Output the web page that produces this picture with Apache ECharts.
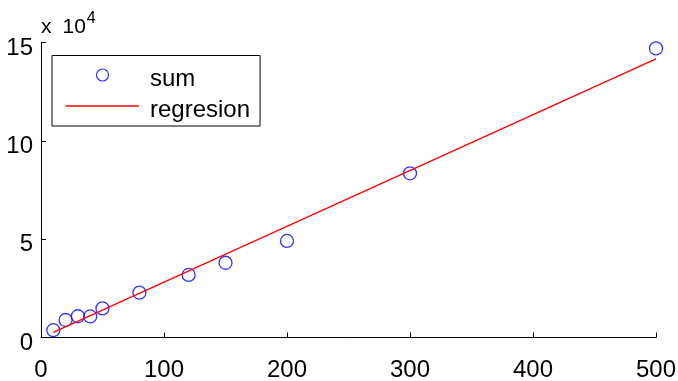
<!DOCTYPE html>
<html>
<head>
<meta charset="utf-8">
<script src="https://cdn.jsdelivr.net/npm/echarts@6/dist/echarts.min.js"></script>
<style>
  html, body { margin: 0; padding: 0; background: #fff; }
  #chart { width: 678px; height: 381px; }
</style>
</head>
<body>
<div id="chart"></div>
<script>
// measured points
const xValues = [10, 20, 30, 40, 50, 80, 120, 150, 200, 300, 500];
const sumValues = [3700, 8900, 10800, 10700, 14800, 22800, 31800, 38000, 49100, 83500, 147000];

// fitted line, end points
const regX = [10, 500];
const regY = [2600, 141700];

const xTicks = [0, 100, 200, 300, 400, 500];
const yTicks = [0, 5, 10, 15]; // x 10^4
const yScale = 10000;

const font = "'Liberation Sans', Arial, sans-serif";

const chart = echarts.init(document.getElementById("chart"));

const option = {
  animation: false,
  backgroundColor: "#fff",
  grid: {
    left: 41,
    right: 22,
    top: 42.5,
    bottom: 43.5,
    outerBoundsMode: "none",
  },
  legend: {
    orient: "vertical",
    left: 52,
    top: 55.5,
    padding: [11.5, 10, 4, 14],
    itemGap: 7,
    itemWidth: 73,
    itemHeight: 12,
    borderColor: "#000",
    borderWidth: 1,
    backgroundColor: "#fff",
    formatter: (name) => "{t|" + name + "}",
    textStyle: {
      rich: {
        t: {
          fontFamily: font,
          fontSize: 24,
          color: "#000",
          padding: [8, 0, 0, 6],
        },
      },
    },
    data: [
      {
        name: "sum",
        icon: "circle",
        itemStyle: {
          color: "rgba(0,0,0,0)",
          borderColor: "#0000ff",
          borderWidth: 1.2,
        },
      },
      // plain red stroke, no marker in the middle
      { name: "regresion", icon: "path://M0,0L73,0L73,1.3L0,1.3Z" },
    ],
  },
  xAxis: {
    type: "value",
    min: xTicks[0],
    max: xTicks[xTicks.length - 1],
    interval: xTicks[1] - xTicks[0],
    axisLine: { lineStyle: { color: "#000", width: 1 } },
    axisTick: { inside: true, length: 5, lineStyle: { color: "#000" } },
    splitLine: { show: false },
    axisLabel: {
      color: "#000",
      fontFamily: font,
      fontSize: 24,
      margin: 21,
    },
  },
  yAxis: {
    type: "value",
    min: yTicks[0] * yScale,
    max: yTicks[yTicks.length - 1] * yScale,
    interval: (yTicks[1] - yTicks[0]) * yScale,
    name: "{x|x}{n|10}{sup|4}",
    nameLocation: "end",
    nameGap: -2,
    nameTextStyle: {
      align: "left",
      verticalAlign: "bottom",
      rich: {
        x: { fontFamily: font, fontSize: 21, color: "#000" },
        n: { fontFamily: font, fontSize: 21, color: "#000", padding: [0, 0, 0, 11] },
        sup: {
          fontFamily: font,
          fontSize: 16,
          color: "#000",
          padding: [0, 0, 18, 1],
        },
      },
    },
    axisLine: { show: true, lineStyle: { color: "#000", width: 1 } },
    axisTick: { show: true, inside: true, length: 5, lineStyle: { color: "#000" } },
    splitLine: { show: false },
    axisLabel: {
      margin: 8,
      formatter: (v) => "{t|" + v / yScale + "}",
      rich: {
        t: {
          color: "#000",
          fontFamily: font,
          fontSize: 24,
          padding: [11, 0, 0, 0],
        },
      },
    },
  },
  series: [
    {
      name: "sum",
      type: "scatter",
      symbol: "circle",
      symbolSize: 13,
      itemStyle: {
        color: "rgba(0,0,0,0)",
        borderColor: "#0000ff",
        borderWidth: 1.3,
      },
      data: xValues.map((x, i) => [x, sumValues[i]]),
    },
    {
      name: "regresion",
      type: "line",
      symbol: "none",
      lineStyle: { color: "#ff0000", width: 1.3 },
      itemStyle: { color: "#ff0000" },
      data: regX.map((x, i) => [x, regY[i]]),
    },
  ],
};

chart.setOption(option);
</script>
</body>
</html>
